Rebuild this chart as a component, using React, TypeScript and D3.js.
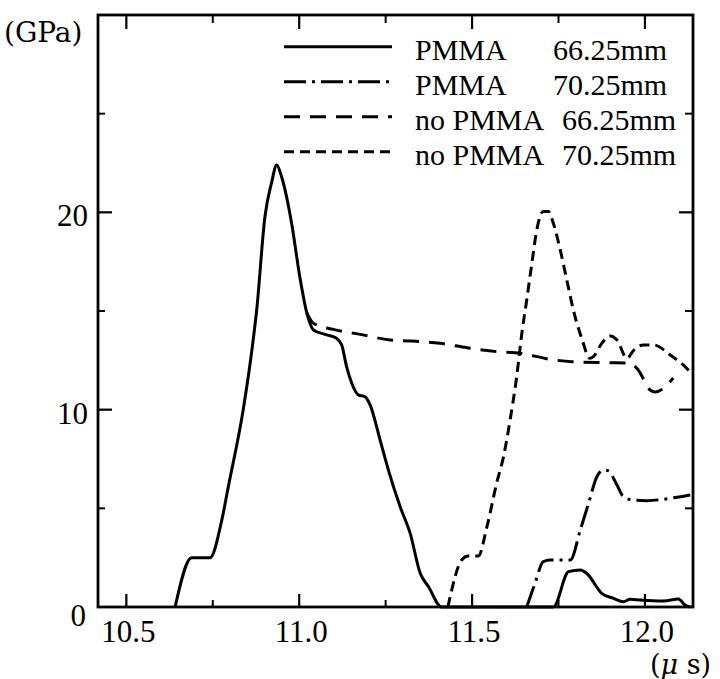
import React from "react";
import * as d3 from "d3";

// time axis (µs) and pressure (GPa)
const pmma66T = [10.641, 10.689, 10.742, 10.776, 10.795, 10.838, 10.863, 10.877, 10.901, 10.92, 10.935, 10.949, 10.978, 11.002, 11.022, 11.041, 11.08, 11.108, 11.123, 11.137, 11.152, 11.171, 11.19, 11.205, 11.234, 11.258, 11.292, 11.321, 11.35, 11.374, 11.412, 11.735, 11.779, 11.813, 11.832, 11.875, 11.909, 11.938, 11.957, 11.986, 12.054, 12.097, 12.116, 12.131];
const pmma66P = [0, 2.5, 2.5, 4.4, 6.1, 10.0, 13.0, 15.05, 19.8, 21.5, 22.4, 21.8, 19.45, 16.7, 14.9, 14.04, 13.79, 13.62, 13.28, 12.18, 11.34, 10.75, 10.66, 10.24, 8.46, 6.94, 5.08, 3.73, 1.71, 1.03, 0, 0, 1.79, 1.88, 1.7, 0.69, 0.44, 0.27, 0.39, 0.35, 0.3, 0.4, 0.1, 0];

const pmma70T = [11.658, 11.682, 11.706, 11.726, 11.784, 11.813, 11.837, 11.861, 11.88, 11.894, 11.919, 11.938, 11.967, 12.005, 12.054, 12.092, 12.131];
const pmma70P = [0, 1.2, 2.3, 2.38, 2.38, 3.9, 5.26, 6.6, 6.94, 6.9, 6.18, 5.59, 5.42, 5.39, 5.46, 5.56, 5.68];

const noPmma66T = [11.022, 11.041, 11.099, 11.185, 11.263, 11.326, 11.407, 11.485, 11.571, 11.639, 11.726, 11.789, 11.89, 11.957, 11.981, 12.015, 12.03, 12.082];
const noPmma66P = [14.9, 14.38, 14.07, 13.79, 13.53, 13.48, 13.36, 13.14, 12.94, 12.86, 12.55, 12.43, 12.38, 12.35, 12.0, 11.0, 10.9, 11.6];

const noPmma70T = [11.43, 11.47, 11.489, 11.518, 11.543, 11.571, 11.591, 11.61, 11.629, 11.644, 11.658, 11.673, 11.687, 11.706, 11.721, 11.735, 11.755, 11.774, 11.793, 11.817, 11.841, 11.851, 11.875, 11.899, 11.919, 11.948, 11.967, 11.996, 12.025, 12.073, 12.126, 12.131];
const noPmma70P = [0, 2.38, 2.58, 2.58, 4.07, 6.27, 7.62, 9.48, 11.67, 13.87, 15.56, 17.42, 19.1, 20.04, 20.04, 19.45, 18.1, 16.57, 15.05, 13.62, 12.6, 12.69, 13.36, 13.73, 13.53, 12.6, 13.0, 13.28, 13.28, 12.77, 12.0, 11.9];

const xMajor = [10.5, 11.0, 11.5, 12.0];
const xMinor = [10.75, 11.25, 11.75];
const xLabels = ["10.5", "11.0", "11.5", "12.0"];
const yMajor = [10, 20];
const yMinor = [5, 15, 25];
const yLabels = ["10", "20"];

const legendNames = ["PMMA", "PMMA", "no PMMA", "no PMMA"];
const legendDepths = ["66.25mm", "70.25mm", "66.25mm", "70.25mm"];

const W = 720;
const H = 679;
const left = 98, right = 693, top = 15, bottom = 607;

const x = d3.scaleLinear().domain([10.418, 12.139]).range([left, right]);
const y = d3.scaleLinear().domain([0, 30]).range([bottom, top]);

const line = d3
  .line<[number, number]>()
  .x((d) => x(d[0]))
  .y((d) => y(d[1]))
  .curve(d3.curveMonotoneX);

const zip = (t: number[], p: number[]) => t.map((v, i) => [v, p[i]] as [number, number]);

const series = [
  { pts: zip(pmma66T, pmma66P), dash: "none" },
  { pts: zip(pmma70T, pmma70P), dash: "22,6,3,6" },
  { pts: zip(noPmma66T, noPmma66P), dash: "16,10" },
  { pts: zip(noPmma70T, noPmma70P), dash: "10,6" },
];

const tickFont = "Liberation Serif, Times New Roman, serif";
const unitFont = "DejaVu Serif, serif";

export default function App() {
  return (
    <svg
      width={W}
      height={H}
      style={{ position: "absolute", left: 0, top: 0, background: "#fff" }}
    >
      <rect x={0} y={0} width={W} height={H} fill="#fff" />

      {/* curves */}
      {series.map((s, i) => (
        <path
          key={i}
          d={line(s.pts) || ""}
          fill="none"
          stroke="#000"
          strokeWidth={3}
          strokeDasharray={s.dash}
          strokeLinejoin="round"
        />
      ))}

      {/* frame */}
      <rect x={left} y={top} width={right - left} height={bottom - top} fill="none" stroke="#000" strokeWidth={2.8} />

      {/* x ticks, bottom and top */}
      {xMajor.map((v) => (
        <g key={"xM" + v}>
          <line x1={x(v)} x2={x(v)} y1={bottom} y2={bottom - 13} stroke="#000" strokeWidth={2.2} />
          <line x1={x(v)} x2={x(v)} y1={top} y2={top + 14} stroke="#000" strokeWidth={2.2} />
        </g>
      ))}
      {xMinor.map((v) => (
        <g key={"xm" + v}>
          <line x1={x(v)} x2={x(v)} y1={bottom} y2={bottom - 7} stroke="#000" strokeWidth={2} />
          <line x1={x(v)} x2={x(v)} y1={top} y2={top + 8} stroke="#000" strokeWidth={2} />
        </g>
      ))}
      {xMajor.map((v, i) => (
        <text key={"xl" + v} x={x(v) + 2} y={642} textAnchor="middle" fontFamily={tickFont} fontSize={31}>
          {xLabels[i]}
        </text>
      ))}

      {/* y ticks, left and right */}
      {yMajor.map((v) => (
        <g key={"yM" + v}>
          <line x1={left} x2={left + 14} y1={y(v)} y2={y(v)} stroke="#000" strokeWidth={2.2} />
          <line x1={right} x2={right - 14} y1={y(v)} y2={y(v)} stroke="#000" strokeWidth={2.2} />
        </g>
      ))}
      {yMinor.map((v) => (
        <g key={"ym" + v}>
          <line x1={left} x2={left + 7} y1={y(v)} y2={y(v)} stroke="#000" strokeWidth={2} />
          <line x1={right} x2={right - 8} y1={y(v)} y2={y(v)} stroke="#000" strokeWidth={2} />
        </g>
      ))}
      {yMajor.map((v, i) => (
        <text key={"yl" + v} x={88} y={y(v) + 14} textAnchor="end" fontFamily={tickFont} fontSize={31}>
          {yLabels[i]}
        </text>
      ))}
      <text x={86} y={626} textAnchor="end" fontFamily={tickFont} fontSize={31}>
        0
      </text>

      {/* units */}
      <text x={4} y={42} fontFamily={unitFont} fontSize={28}>
        (GPa)
      </text>
      <text x={650} y={674} fontFamily={unitFont} fontSize={27}>
        (<tspan fontStyle="italic">μ</tspan> s)
      </text>

      {/* legend */}
      {series.map((s, i) => {
        const ly = 46.7 + i * 35;
        return (
          <g key={"lg" + i}>
            <line x1={284} x2={392} y1={ly} y2={ly} stroke="#000" strokeWidth={3} strokeDasharray={s.dash} />
            <text x={415} y={ly + 13} fontFamily={tickFont} fontSize={30}>
              {legendNames[i]}
            </text>
            <text x={i < 2 ? 553 : 562} y={ly + 13} fontFamily={tickFont} fontSize={30}>
              {legendDepths[i]}
            </text>
          </g>
        );
      })}
    </svg>
  );
}
